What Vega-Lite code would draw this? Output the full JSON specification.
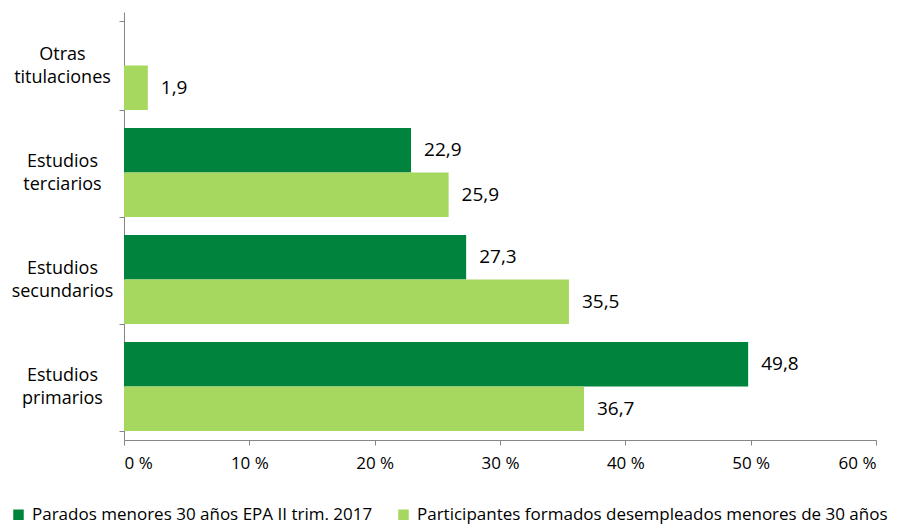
{
  "$schema": "https://vega.github.io/schema/vega-lite/v6.json",
  "width": 752,
  "height": 428,
  "autosize": {"type": "none"},
  "padding": {"left": 124, "top": 12, "right": 21, "bottom": 84},
  "background": "white",
  "config": {
    "locale": {"number": {"decimal": ",", "thousands": ".", "grouping": [3], "currency": ["", " €"]}},
    "font": "Open Sans",
    "view": {"stroke": null},
    "axis": {"labelFont": "Open Sans", "labelFontSize": 17, "labelColor": "#000000", "domainColor": "#868686", "tickColor": "#868686", "grid": false, "title": null}
  },
  "data": {
    "values": [
      {"cat": "Otras|titulaciones", "serie": "Participantes formados desempleados menores de 30 años", "valor": 1.9},
      {"cat": "Estudios|terciarios", "serie": "Parados menores 30 años EPA II trim. 2017", "valor": 22.9},
      {"cat": "Estudios|terciarios", "serie": "Participantes formados desempleados menores de 30 años", "valor": 25.9},
      {"cat": "Estudios|secundarios", "serie": "Parados menores 30 años EPA II trim. 2017", "valor": 27.3},
      {"cat": "Estudios|secundarios", "serie": "Participantes formados desempleados menores de 30 años", "valor": 35.5},
      {"cat": "Estudios|primarios", "serie": "Parados menores 30 años EPA II trim. 2017", "valor": 49.8},
      {"cat": "Estudios|primarios", "serie": "Participantes formados desempleados menores de 30 años", "valor": 36.7}
    ]
  },
  "encoding": {
    "y": {
      "field": "cat", "type": "nominal",
      "sort": ["Otras|titulaciones", "Estudios|terciarios", "Estudios|secundarios", "Estudios|primarios"],
      "scale": {"paddingInner": 0.17, "paddingOuter": 0.085},
      "axis": {"labelExpr": "isValid(datum.value) ? split(datum.value, '|') : ''", "labelFontSize": 18, "labelLineHeight": 23, "labelAlign": "center", "labelPadding": 57, "labelOffset": -11.5, "tickBand": "extent", "tickSize": 5, "labelBaseline": "middle", "labelLimit": 0}
    },
    "yOffset": {
      "field": "serie", "type": "nominal",
      "sort": ["Parados menores 30 años EPA II trim. 2017", "Participantes formados desempleados menores de 30 años"],
      "scale": {"paddingInner": 0, "paddingOuter": 0}
    },
    "x": {
      "field": "valor", "type": "quantitative",
      "scale": {"domain": [0, 60], "nice": false},
      "axis": {"values": [0, 10, 20, 30, 40, 50, 60], "labelExpr": "datum.value + ' %'", "tickSize": 5, "labelPadding": 10}
    }
  },
  "layer": [
    {
      "mark": {"type": "bar"},
      "encoding": {
        "color": {
          "field": "serie", "type": "nominal",
          "sort": ["Parados menores 30 años EPA II trim. 2017", "Participantes formados desempleados menores de 30 años"],
          "scale": {"range": ["#00843D", "#A6D75E"]},
          "legend": {
            "title": null, "orient": "none", "direction": "horizontal",
            "legendX": -114, "legendY": 494,
            "symbolType": "square", "symbolSize": 110, "symbolStrokeWidth": 0,
            "labelFont": "Open Sans", "labelFontSize": 17, "labelColor": "#000000", "labelLimit": 0,
            "columnPadding": 22, "labelOffset": 5
          }
        }
      }
    },
    {
      "mark": {"type": "text", "align": "left", "baseline": "middle", "dx": 13, "font": "Open Sans", "fontSize": 19, "color": "#000000"},
      "encoding": {
        "text": {"field": "valor", "type": "quantitative", "format": ".1f"}
      }
    }
  ]
}
